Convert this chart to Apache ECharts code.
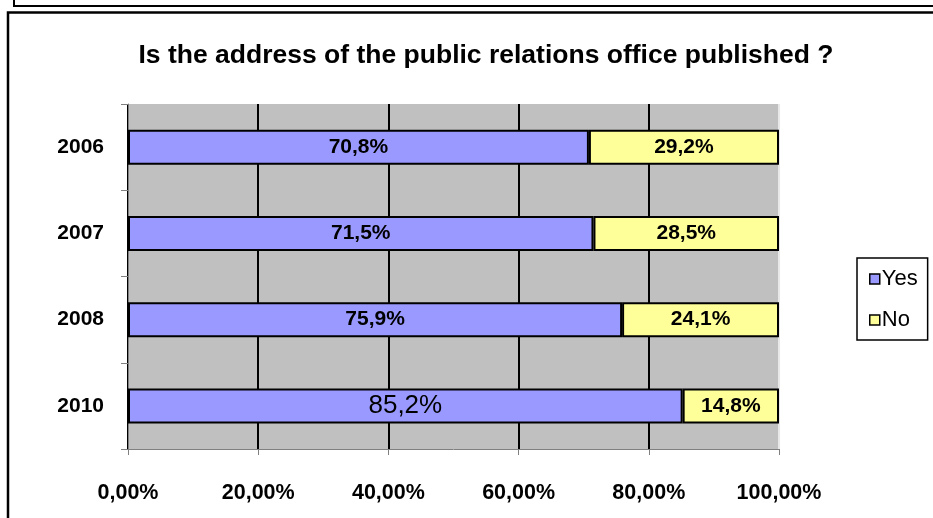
<!DOCTYPE html>
<html>
<head>
<meta charset="utf-8">
<script src="https://cdn.jsdelivr.net/npm/echarts@6/dist/echarts.min.js"></script>
<style>
html,body{margin:0;padding:0;background:#fff;}
#chart{width:933px;height:518px;}
</style>
</head>
<body>
<div id="chart"></div>
<script>
var titleText = 'Is the address of the public relations office published ?';
var categories = ['2006', '2007', '2008', '2010'];
var seriesNames = ['Yes', 'No'];
var yesValues = [70.8, 71.5, 75.9, 85.2];
var noValues = [29.2, 28.5, 24.1, 14.8];
var xTicks = [0, 20, 40, 60, 80, 100];

var FONT = 'Arial, "Liberation Sans", sans-serif';
function pct(v){ return v.toFixed(1).replace('.', ',') + '%'; }

var chart = echarts.init(document.getElementById('chart'), null, {renderer: 'canvas'});

var yesData = yesValues.map(function(v, i){
  var item = {value: v};
  if (i === 3) item.label = {fontWeight: 'normal', fontSize: 26};
  return item;
});

var option = {
  animation: false,
  backgroundColor: '#ffffff',
  title: {
    text: titleText,
    left: 481,
    top: 37,
    textAlign: 'center',
    textStyle: {fontFamily: FONT, fontWeight: 'bold', fontSize: 26.5, color: '#000'}
  },
  legend: {
    orient: 'vertical',
    left: 857,
    top: 258,
    data: seriesNames,
    itemWidth: 10,
    itemHeight: 10,
    itemGap: 19,
    padding: [10, 10, 9, 12],
    borderColor: '#000',
    borderWidth: 1.5,
    borderRadius: 0,
    icon: 'rect',
    itemStyle: {borderColor: '#000', borderWidth: 1.5},
    textStyle: {fontFamily: FONT, fontSize: 22, color: '#000', padding: [0, 0, 0, -3]}
  },
  grid: {
    left: 128, right: 154, top: 104, bottom: 69,
    show: true, backgroundColor: '#C0C0C0', borderWidth: 0,
    containLabel: false
  },
  xAxis: {
    type: 'value',
    min: xTicks[0],
    max: xTicks[xTicks.length - 1],
    interval: 20,
    axisLine: {show: true, lineStyle: {color: '#808080', width: 1}},
    axisTick: {show: true, length: 6, lineStyle: {color: '#808080'}},
    splitLine: {show: true, lineStyle: {color: ['#000','#000','#000','#000','#000','#e8e8e8'], width: 2}},
    axisLabel: {
      margin: 33,
      fontFamily: FONT, fontWeight: 'bold', fontSize: 21.5, color: '#000',
      formatter: function(v){ return v.toFixed(2).replace('.', ',') + '%'; }
    }
  },
  yAxis: {
    type: 'category',
    data: categories,
    inverse: true,
    axisLine: {show: true, lineStyle: {color: '#808080', width: 1}},
    axisTick: {show: true, length: 7, lineStyle: {color: '#808080'}},
    splitLine: {show: false},
    axisLabel: {margin: 24, fontFamily: FONT, fontWeight: 'bold', fontSize: 21, color: '#000'}
  },
  series: [
    {
      name: seriesNames[0], type: 'bar', stack: 'total', barWidth: 35,
      data: yesData,
      itemStyle: {color: '#9999FF', borderColor: '#000', borderWidth: 2},
      label: {show: true, position: 'inside', fontFamily: FONT, fontWeight: 'bold', fontSize: 21, color: '#000',
        formatter: function(p){ return pct(p.value); }}
    },
    {
      name: seriesNames[1], type: 'bar', stack: 'total', barWidth: 35,
      data: noValues,
      itemStyle: {color: '#FFFF99', borderColor: '#000', borderWidth: 2},
      label: {show: true, position: 'inside', fontFamily: FONT, fontWeight: 'bold', fontSize: 21, color: '#000',
        formatter: function(p){ return pct(p.value); }}
    }
  ],
  graphic: [
    {type: 'polyline', shape: {points: [[14, 0], [14, 6], [933, 6]]}, style: {stroke: '#000', lineWidth: 2, fill: null}, z: 100},
    {type: 'polyline', shape: {points: [[8, 518], [8, 12.5], [933, 12.5]]}, style: {stroke: '#000', lineWidth: 2.5, fill: null}, z: 100}
  ]
};
chart.setOption(option);
</script>
</body>
</html>
